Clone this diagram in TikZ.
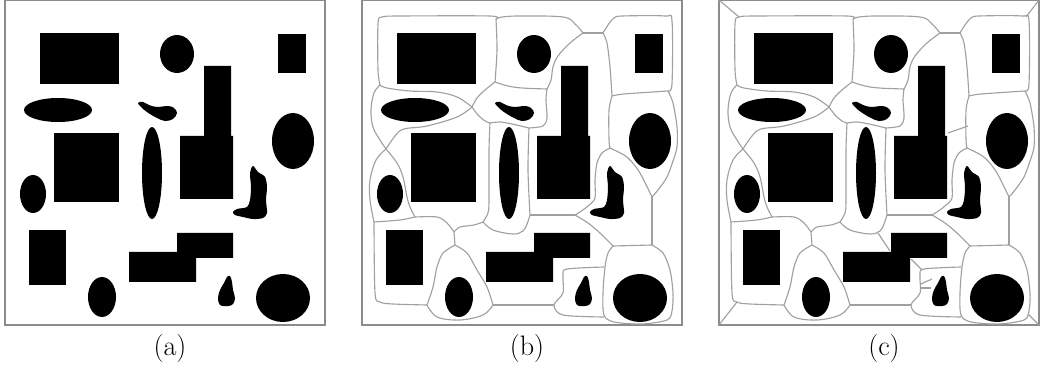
\documentclass[tikz,border=0pt]{standalone}
\usepackage{tikz}
\usepackage{fontspec}
\usetikzlibrary{positioning}
\definecolor{edgegray}{RGB}{160,160,160}
\definecolor{framegray}{RGB}{140,140,140}

\tikzset{
  obst/.style={fill=black},
  cellline/.style={draw=edgegray, line width=0.8pt, line join=round},
  panelframe/.style={draw=framegray, line width=1pt},
  caption/.style={font=\fontsize{20}{24}\selectfont, inner sep=0pt}
}

\newcommand{\obstacles}{%
  \fill[obst] (35,33) rectangle (114,84);
  \fill[obst] (172,54) ellipse [x radius=17, y radius=19];
  \fill[obst] (273,34) rectangle (301,73);
  \fill[obst] (53,110) ellipse [x radius=34, y radius=12];
  \fill[obst] plot[smooth cycle, tension=0.6] coordinates {(133,103) (138,102) (144,105) (152,107) (163,106) (169,108) (172,113) (168,119) (160,121) (152,118) (145,114) (138,109)};
  \fill[obst] (199,66) -- (226,66) -- (226,136) -- (228,136) -- (228,199) -- (175,199) -- (175,136) -- (199,136) -- cycle;
  \fill[obst] (288,141) ellipse [x radius=21, y radius=28];
  \fill[obst] (49,133) rectangle (114,202);
  \fill[obst] (147,173) ellipse [x radius=10, y radius=46];
  \fill[obst] (28,194) ellipse [x radius=13, y radius=19];
  \fill[obst] plot[smooth cycle, tension=0.5] coordinates {(248,166) (253,172) (260,177) (262,187) (261,200) (262,213) (258,218) (248,219) (238,217) (230,215) (228,212) (232,209) (242,207) (245,200) (246,187) (245,173)};
  \fill[obst] (24,230) rectangle (61,285);
  \fill[obst] (172,233) -- (228,233) -- (228,258) -- (191,258) -- (191,282) -- (124,282) -- (124,252) -- (172,252) -- cycle;
  \fill[obst] (97,297) ellipse [x radius=14, y radius=20];
  \fill[obst] plot[smooth cycle, tension=0.6] coordinates {(225,276) (222,277) (219,283) (215,290) (213,298) (215,305) (223,306) (228,304) (230,298) (228,290) (227,282)};
  \fill[obst] (278,298) ellipse [x radius=27, y radius=24];
}

% boundaries between the regions
\newcommand{\cellgraph}{%
  \draw[cellline] plot[smooth, tension=0.5] coordinates {(18,85) (16,70) (16,24) (20,17) (40,16) (128,16) (134,19)};
  \draw[cellline] plot[smooth] coordinates {(134,19) (135,50) (133,82)};
  \draw[cellline] plot[smooth, tension=0.6] coordinates {(134,19) (140,17) (158,16) (201,17) (213,24) (221,33)};
  \draw[cellline] (221,33) -- (241,33);
  \draw[cellline] plot[smooth, tension=0.6] coordinates {(221,33) (208,43) (196,56) (191,67) (189,80) (185,89)};
  \draw[cellline] plot[smooth, tension=0.6] coordinates {(185,89) (160,88) (146,86) (133,82)};
  \draw[cellline] plot[smooth, tension=0.5] coordinates {(185,89) (184,100) (185,118) (181,126) (167,128)};
  \draw[cellline] plot[smooth, tension=0.5] coordinates {(167,128) (150,124) (138,122) (128,123)};
  \draw[cellline] plot[smooth, tension=0.5] coordinates {(133,82) (123,90) (115,98) (110,107)};
  \draw[cellline] plot[smooth, tension=0.5] coordinates {(110,107) (116,115) (123,121) (128,123)};
  \draw[cellline] plot[smooth, tension=0.6] coordinates {(18,85) (25,88) (48,91) (75,92) (95,97) (110,107)};
  \draw[cellline] plot[smooth, tension=0.6] coordinates {(110,107) (95,117) (65,126) (42,129) (33,136) (24,149)};
  \draw[cellline] plot[smooth, tension=0.6] coordinates {(18,85) (12,93) (9,110) (11,127) (18,140) (24,149)};
  \draw[cellline] plot[smooth, tension=0.6] coordinates {(24,149) (14,160) (8,180) (8,200) (12,222)};
  \draw[cellline] plot[smooth, tension=0.6] coordinates {(24,149) (35,163) (41,177) (45,197) (48,207) (53,217)};
  \draw[cellline] plot[smooth, tension=0.5] coordinates {(12,222) (38,220) (53,217)};
  \draw[cellline] plot[smooth, tension=0.5] coordinates {(53,217) (75,217) (85,223) (92,232)};
  \draw[cellline] plot[smooth, tension=0.5] coordinates {(92,232) (98,227) (112,225) (121,222)};
  \draw[cellline] plot[smooth, tension=0.5] coordinates {(128,123) (127,150) (127,200) (126,213) (121,222)};
  \draw[cellline] plot[smooth, tension=0.6] coordinates {(121,222) (131,230) (151,234) (161,231) (165,224) (168,215)};
  \draw[cellline] plot[smooth, tension=0.5] coordinates {(167,128) (166,170) (168,215)};
  \draw[cellline] (168,215) -- (213,215);
  \draw[cellline] plot[smooth, tension=0.5] coordinates {(248,148) (240,153) (235,163) (233,180) (233,198) (226,206) (218,212) (213,215)};
  \draw[cellline] plot[smooth, tension=0.5] coordinates {(213,215) (226,223) (238,233) (251,246)};
  \draw[cellline] (251,246) -- (290,245);
  \draw[cellline] (290,197) -- (290,245);
  \draw[cellline] plot[smooth, tension=0.5] coordinates {(248,148) (262,155) (269,161) (278,173) (290,197)};
  \draw[cellline] plot[smooth, tension=0.5] coordinates {(250,96) (247,110) (247,140) (248,148)};
  \draw[cellline] plot[smooth, tension=0.5] coordinates {(241,33) (245,43) (248,67) (250,96)};
  \draw[cellline] plot[smooth, tension=0.5] coordinates {(241,33) (246,25) (252,18) (260,16) (303,16) (310,21) (310,84) (306,91)};
  \draw[cellline] plot[smooth, tension=0.5] coordinates {(306,91) (262,94) (250,96)};
  \draw[cellline] plot[smooth, tension=0.5] coordinates {(306,91) (311,103) (315,127) (315,147) (311,161) (305,177) (296,190) (290,197)};
  \draw[cellline] plot[smooth, tension=0.5] coordinates {(251,246) (246,253) (243,267) (241,293) (242,315) (252,322) (280,324) (305,320) (310,311) (311,293) (308,270) (301,253) (290,245)};
  \draw[cellline] plot[smooth, tension=0.5] coordinates {(242,267) (205,269) (201,275) (201,293) (192,305) (201,315) (242,317)};
  \draw[cellline] (192,305) -- (131,305);
  \draw[cellline] (92,232) -- (93,245);
  \draw[cellline] plot[smooth, tension=0.5] coordinates {(93,245) (105,253) (115,270) (125,287) (131,305)};
  \draw[cellline] plot[smooth, tension=0.5] coordinates {(93,245) (81,253) (75,267) (71,287) (65,305)};
  \draw[cellline] plot[smooth, tension=0.6] coordinates {(65,305) (75,317) (98,320) (121,315) (131,305)};
  \draw[cellline] plot[smooth, tension=0.5] coordinates {(12,222) (13,293) (18,302) (31,304) (65,305)};
}

\newcommand{\extralinks}{%
  \draw[cellline] (0,0) -- (20,17);
  \draw[cellline] (320,0) -- (307,17);
  \draw[cellline] (0,325) -- (18,302);
  \draw[cellline] (320,325) -- (309,314);
  \draw[cellline] (229,133) -- (249,126);
  \draw[cellline] (159,233) -- (171,251);
  \draw[cellline] (192,259) -- (203,270);
  \draw[cellline] (202,284) -- (213,279);
  \draw[cellline] (202,288) -- (212,288);
}

\begin{document}
\begin{tikzpicture}[x=0.025cm, y=-0.025cm]
  \useasboundingbox (0,0) rectangle (1041,367);

  \begin{scope}[shift={(5,0)}]
    \draw[panelframe] (0,0.5) rectangle (320,325);
    \obstacles
    \node[caption] (capa) at (165,348) {(a)};
  \end{scope}

  \begin{scope}[shift={(362,0)}]
    \draw[panelframe] (0,0.5) rectangle (320,325);
    \cellgraph
    \obstacles
    \node[caption] (capb) at (165,348) {(b)};
  \end{scope}

  \begin{scope}[shift={(719,0)}]
    \draw[panelframe] (0,0.5) rectangle (320,325);
    \cellgraph
    \extralinks
    \obstacles
    \node[caption] (capc) at (165,348) {(c)};
  \end{scope}
\end{tikzpicture}
\end{document}
